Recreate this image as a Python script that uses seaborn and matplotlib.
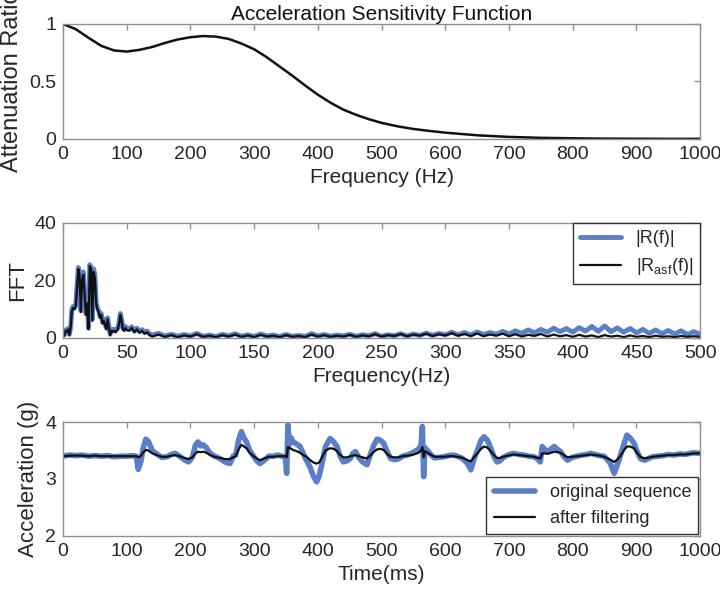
import numpy as np
import pandas as pd
import seaborn as sns
import matplotlib.pyplot as plt
from matplotlib import font_manager

# ---- data ----
# acceleration sensitivity function
asf_freq = [0, 20, 40, 60, 80, 100, 120, 140, 160, 180, 200, 220, 240, 260, 280, 300,
            320, 340, 360, 380, 400, 420, 440, 460, 480, 500, 525, 550, 575, 600,
            650, 700, 750, 800, 850, 900, 950, 1000]
asf_ratio = [1.0, 0.955, 0.88, 0.81, 0.77, 0.76, 0.775, 0.80, 0.835, 0.865, 0.885, 0.895,
             0.89, 0.87, 0.83, 0.78, 0.71, 0.63, 0.55, 0.465, 0.385, 0.315, 0.255, 0.21,
             0.172, 0.14, 0.11, 0.087, 0.07, 0.055, 0.032, 0.018, 0.01, 0.006, 0.003,
             0.002, 0.001, 0.001]

# FFT spectra
fft_freq = ([0, 1, 2, 3, 4, 5, 6, 7, 8, 9, 10, 11, 12, 13, 14, 15, 16, 17, 18, 19, 20,
             21, 22, 23, 24, 25, 26, 27, 28, 29, 30, 31, 32, 33, 34, 35, 36, 37, 38, 39,
             40, 41, 42, 43, 44, 45, 46, 47, 48, 49, 50, 52, 54, 56, 58, 60, 62, 64, 66,
             68] + list(range(70, 505, 5)))
fft_raw = [2.3, 1.0, 2.8, 2.5, 3.3, 1.3, 3.8, 10.0, 11.0, 10.5, 11.5, 18.0, 24.5, 22.5,
           9.5, 20.5, 23.0, 15.5, 8.5, 12.5, 3.5, 25.5, 24.5, 6.5, 24.0, 22.0, 12.5, 10.5,
           9.5, 7.5, 8.5, 5.5, 6.5, 5.0, 3.5, 7.0, 4.0, 1.3, 3.0, 2.6, 3.0, 2.4, 3.0, 3.4,
           5.5, 8.5, 6.5, 3.4, 3.0, 4.0, 3.2, 3.0, 3.9, 2.4, 3.4, 2.2, 2.9, 1.9, 2.4, 1.4,
           1.0, 1.6, 0.7, 1.3, 0.6, 1.2, 0.7, 1.6, 0.6, 1.0, 0.5, 1.3, 0.7, 1.5, 0.6, 1.1,
           0.5, 1.4, 0.7, 1.0, 0.5, 1.2, 0.6, 0.9, 0.5, 1.5, 0.7, 1.2, 0.6, 1.0, 0.7, 1.3,
           0.6, 1.1, 0.8, 1.5, 0.6, 1.1, 0.8, 1.5, 0.7, 1.4, 0.9, 1.7, 0.9, 1.6, 1.1, 2.0,
           1.1, 1.9, 1.0, 2.1, 1.2, 1.9, 1.3, 2.3, 1.4, 2.5, 1.6, 2.8, 1.8, 3.0, 2.0, 3.4,
           2.2, 3.3, 2.0, 3.6, 2.4, 4.0, 2.3, 4.2, 2.2, 3.5, 2.0, 3.3, 1.8, 3.0, 1.6, 2.8,
           1.5, 2.6, 1.4, 2.5, 1.2, 2.2, 1.3]
fft_asf = [2.0, 0.8, 2.5, 2.2, 3.0, 1.0, 3.5, 9.5, 10.5, 10.0, 11.0, 17.0, 24.0, 22.0,
           9.0, 20.0, 22.0, 15.0, 8.0, 12.0, 3.0, 25.0, 24.0, 6.0, 23.0, 21.0, 12.0, 10.0,
           9.0, 7.0, 8.0, 5.0, 6.0, 4.5, 3.0, 6.5, 3.5, 1.0, 2.5, 2.2, 2.5, 2.0, 2.5, 3.0,
           5.0, 8.0, 6.0, 3.0, 2.5, 3.5, 2.8, 2.5, 3.5, 2.0, 3.0, 1.8, 2.5, 1.5, 2.0, 1.0,
           0.5, 1.2, 0.4, 1.0, 0.3, 0.9, 0.5, 1.3, 0.4, 0.8, 0.3, 1.0, 0.5, 1.2, 0.4, 0.9,
           0.3, 1.1, 0.5, 0.8, 0.3, 1.0, 0.4, 0.7, 0.3, 1.2, 0.5, 1.0, 0.4, 0.8, 0.5, 1.1,
           0.4, 0.9, 0.6, 1.3, 0.5, 1.0, 0.7, 1.4, 0.6, 1.2, 0.8, 1.5, 0.7, 1.3, 0.9, 1.7,
           0.8, 1.4, 0.7, 1.6, 0.6, 1.2, 0.8, 1.5, 0.6, 1.3, 0.5, 1.1, 0.7, 1.4, 0.5, 1.2,
           0.6, 1.0, 0.4, 1.1, 0.5, 0.9, 0.3, 1.0, 0.5, 0.8, 0.3, 0.9, 0.4, 0.7, 0.3, 0.8,
           0.4, 0.6, 0.3, 0.7, 0.4, 0.6, 0.4]

# time series (ms, g)
t_ms = [0, 10, 20, 30, 40, 50, 60, 70, 80, 90, 100, 110, 115, 118, 122, 126, 130, 134,
        140, 147, 155, 163, 170, 176, 183, 190, 197, 203, 208, 212, 216, 220, 225, 231,
        238, 246, 254, 262, 267, 271, 276, 280, 284, 288, 293, 299, 304, 309, 316, 323,
        330, 337, 344, 349, 351, 353, 355, 358, 361, 366, 372, 377, 382, 388, 393, 398,
        402, 406, 412, 419, 425, 430, 435, 440, 446, 451, 455, 459, 464, 470, 477, 483,
        488, 493, 498, 503, 508, 514, 520, 526, 533, 540, 547, 553, 558, 562, 564, 566,
        568, 572, 578, 583, 590, 598, 605, 612, 619, 627, 635, 640, 645, 651, 656, 661,
        666, 671, 676, 681, 686, 691, 698, 707, 715, 723, 731, 739, 745, 749, 752, 756,
        760, 766, 771, 776, 781, 787, 792, 799, 807, 815, 822, 828, 835, 842, 849, 855,
        859, 865, 870, 875, 880, 885, 890, 896, 901, 906, 912, 917, 925, 933, 942, 950,
        959, 968, 976, 984, 990, 1000]
acc_raw = [3.40, 3.42, 3.41, 3.42, 3.40, 3.41, 3.40, 3.41, 3.39, 3.40, 3.40, 3.41, 3.40,
           3.17, 3.30, 3.55, 3.70, 3.66, 3.50, 3.44, 3.38, 3.39, 3.43, 3.45, 3.40, 3.34,
           3.30, 3.38, 3.60, 3.65, 3.58, 3.60, 3.55, 3.45, 3.40, 3.36, 3.30, 3.27, 3.40,
           3.42, 3.70, 3.83, 3.72, 3.65, 3.50, 3.40, 3.32, 3.27, 3.33, 3.40, 3.40, 3.42,
           3.40, 3.38, 3.10, 3.95, 3.60, 3.72, 3.65, 3.62, 3.57, 3.45, 3.33, 3.20, 3.05,
           2.95, 3.05, 3.25, 3.57, 3.71, 3.65, 3.57, 3.40, 3.30, 3.32, 3.36, 3.45, 3.48,
           3.38, 3.30, 3.25, 3.45, 3.60, 3.70, 3.68, 3.63, 3.50, 3.36, 3.34, 3.35, 3.40,
           3.42, 3.45, 3.49, 3.52, 3.60, 3.92, 3.04, 3.55, 3.50, 3.42, 3.37, 3.38, 3.39,
           3.41, 3.42, 3.40, 3.36, 3.27, 3.16, 3.35, 3.52, 3.68, 3.74, 3.68, 3.55, 3.40,
           3.30, 3.32, 3.38, 3.42, 3.45, 3.43, 3.42, 3.40, 3.39, 3.35, 3.30, 3.57, 3.52,
           3.48, 3.53, 3.57, 3.52, 3.48, 3.38, 3.33, 3.38, 3.40, 3.42, 3.43, 3.45, 3.43,
           3.41, 3.40, 3.33, 3.27, 3.10, 3.25, 3.42, 3.60, 3.77, 3.72, 3.63, 3.48, 3.36,
           3.33, 3.35, 3.39, 3.40, 3.41, 3.43, 3.42, 3.44, 3.43, 3.45, 3.46, 3.45]
acc_filt = [3.40, 3.41, 3.41, 3.41, 3.40, 3.41, 3.40, 3.40, 3.40, 3.40, 3.40, 3.40, 3.40,
            3.38, 3.40, 3.47, 3.51, 3.50, 3.45, 3.42, 3.39, 3.39, 3.41, 3.42, 3.40, 3.37,
            3.35, 3.38, 3.45, 3.48, 3.47, 3.48, 3.46, 3.42, 3.39, 3.37, 3.35, 3.35, 3.38,
            3.40, 3.53, 3.60, 3.57, 3.54, 3.46, 3.40, 3.36, 3.33, 3.36, 3.39, 3.39, 3.40,
            3.40, 3.40, 3.38, 3.56, 3.55, 3.53, 3.51, 3.49, 3.46, 3.42, 3.39, 3.33, 3.29,
            3.27, 3.29, 3.37, 3.50, 3.54, 3.53, 3.49, 3.42, 3.38, 3.38, 3.40, 3.41, 3.42,
            3.40, 3.38, 3.36, 3.42, 3.48, 3.52, 3.53, 3.51, 3.45, 3.39, 3.38, 3.38, 3.40,
            3.41, 3.42, 3.44, 3.46, 3.50, 3.56, 3.38, 3.49, 3.46, 3.42, 3.39, 3.39, 3.39,
            3.40, 3.40, 3.39, 3.37, 3.33, 3.31, 3.38, 3.46, 3.53, 3.57, 3.55, 3.49, 3.42,
            3.37, 3.37, 3.39, 3.41, 3.43, 3.42, 3.41, 3.40, 3.39, 3.37, 3.36, 3.45, 3.45,
            3.44, 3.46, 3.48, 3.47, 3.46, 3.41, 3.38, 3.39, 3.40, 3.41, 3.42, 3.43, 3.42,
            3.41, 3.39, 3.36, 3.34, 3.30, 3.34, 3.41, 3.50, 3.57, 3.57, 3.54, 3.46, 3.39,
            3.36, 3.37, 3.39, 3.40, 3.41, 3.42, 3.42, 3.43, 3.43, 3.44, 3.45, 3.45]

asf_ticks = [0, 100, 200, 300, 400, 500, 600, 700, 800, 900, 1000]
fft_ticks = [0, 50, 100, 150, 200, 250, 300, 350, 400, 450, 500]
time_ticks = [0, 100, 200, 300, 400, 500, 600, 700, 800, 900, 1000]

# ---- style ----
sns.set_style('white')
installed = {f.name for f in font_manager.fontManager.ttflist}
fam = [f for f in ['Liberation Sans Narrow', 'Liberation Sans'] if f in installed] + ['DejaVu Sans']
plt.rcParams['font.family'] = fam
plt.rcParams['font.size'] = 14
plt.rcParams['mathtext.default'] = 'regular'

blue = '#5b7fc6'
frame = '#8f8f8f'
txt = '#262626'

fig = plt.figure(figsize=(7.2, 5.98), dpi=100)
ax1 = fig.add_axes([0.0875, 0.7676, 0.885, 0.1923])
ax2 = fig.add_axes([0.0875, 0.4348, 0.885, 0.1923])
ax3 = fig.add_axes([0.0875, 0.1037, 0.885, 0.1906])

# top: ASF curve
sns.lineplot(x=asf_freq, y=asf_ratio, ax=ax1, color='#111111', lw=1.8, estimator=None)
ax1.set_xlim(0, 1000)
ax1.set_ylim(0, 1)
ax1.set_xticks(asf_ticks)
ax1.set_yticks([0, 0.5, 1])
ax1.set_yticklabels(['0', '0.5', '1'])
ax1.set_title('Acceleration Sensitivity Function', fontsize=15, pad=3, color='#111')
ax1.set_xlabel('Frequency (Hz)', fontsize=15, color=txt)
ax1.set_ylabel('Attenuation Ratio', fontsize=17, color=txt, labelpad=4)

# middle: FFT
fft = pd.DataFrame({'f': fft_freq, 'raw': fft_raw, 'asf': fft_asf})
sns.lineplot(data=fft, x='f', y='raw', ax=ax2, color=blue, lw=3.5, estimator=None,
             label='|R(f)|')
sns.lineplot(data=fft, x='f', y='asf', ax=ax2, color='#111111', lw=1.6, estimator=None,
             label='|R$_{asf}$(f)|')
ax2.set_xlim(0, 500)
ax2.set_ylim(0, 40)
ax2.set_xticks(fft_ticks)
ax2.set_yticks([0, 20, 40])
ax2.set_xlabel('Frequency(Hz)', fontsize=15, color=txt)
ax2.set_ylabel('FFT', fontsize=16, color=txt, labelpad=4)
ax2.legend(loc='upper right', borderaxespad=0, fancybox=False, fontsize=13,
           handlelength=2.3, framealpha=1, edgecolor='#333333')

# bottom: time series
ts = pd.DataFrame({'t': t_ms, 'raw': acc_raw, 'filt': acc_filt})
sns.lineplot(data=ts, x='t', y='raw', ax=ax3, color=blue, lw=4, estimator=None,
             label='original sequence')
sns.lineplot(data=ts, x='t', y='filt', ax=ax3, color='#111111', lw=1.6, estimator=None,
             label='after filtering')
ax3.set_xlim(0, 1000)
ax3.set_ylim(2, 4)
ax3.set_xticks(time_ticks)
ax3.set_yticks([2, 3, 4])
ax3.set_xlabel('Time(ms)', fontsize=15, color=txt)
ax3.set_ylabel('Acceleration (g)', fontsize=16, color=txt, labelpad=4)
ax3.legend(loc='lower right', borderaxespad=0.1, fancybox=False, fontsize=13,
           handlelength=2.3, framealpha=1, edgecolor='#333333')

for ax in (ax1, ax2, ax3):
    for s in ax.spines.values():
        s.set_color(frame)
        s.set_linewidth(1.0)
    ax.tick_params(direction='in', top=True, right=True, length=4, width=1,
                   color=frame, labelcolor=txt, labelsize=14, pad=5)

fig.savefig('out.png', dpi=100)
